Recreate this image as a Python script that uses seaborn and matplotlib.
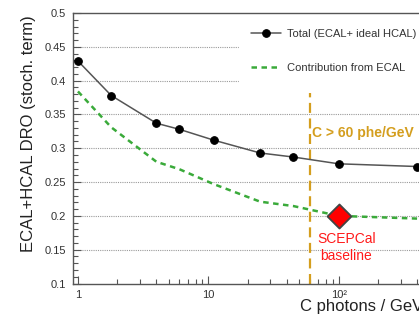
import numpy as np
import pandas as pd
import matplotlib
matplotlib.use("Agg")
import matplotlib.pyplot as plt
from matplotlib.ticker import FixedLocator, MultipleLocator, FuncFormatter, NullFormatter
import seaborn as sns

# Cherenkov light yield scan
photons = [1, 1.8, 4, 6, 11, 25, 45, 100, 400]
total_res = [0.429, 0.378, 0.337, 0.328, 0.312, 0.293, 0.287, 0.277, 0.273]
ecal_res = [0.384, 0.331, 0.280, 0.269, 0.247, 0.221, 0.2145, 0.200, 0.196]

threshold = 60
baseline_x = [100]
baseline_y = [0.20]

y_ticks = [0.1, 0.15, 0.2, 0.25, 0.3, 0.35, 0.4, 0.45, 0.5]
x_ticks = [1, 10, 100]
x_tick_labels = ["1", "10", "10\u00b2"]

sns.set_style("ticks")
plt.rcParams["font.family"] = ["Liberation Sans", "DejaVu Sans"]

AX_GRAY = "#555555"
GOLD = "#d49e1e"
GREEN = "#3aaa3a"

fig = plt.figure(figsize=(4.19, 3.21), dpi=100)
W, H = 419, 321
ax = fig.add_axes([73 / W, 1 - 283.5 / H, 356.7 / W, 270.5 / H])

df_total = pd.DataFrame({"photons": photons, "res": total_res})
df_ecal = pd.DataFrame({"photons": photons, "res": ecal_res})

sns.lineplot(data=df_total, x="photons", y="res", ax=ax, color="#555555",
             linewidth=1.1, marker="o", markersize=5.5, markerfacecolor="black",
             markeredgecolor="black", sort=False, label="Total (ECAL+ ideal HCAL)",
             zorder=4)
sns.lineplot(data=df_ecal, x="photons", y="res", ax=ax, color=GREEN,
             linewidth=1.8, sort=False, label="Contribution from ECAL", zorder=3)
ax.lines[-1].set_dashes([2.2, 1.8])

# threshold marker
ax.plot([threshold, threshold], [0.1, 0.382], color=GOLD, linewidth=1.6,
        dashes=[4.5, 2.5], zorder=2)
ax.text(63, 0.3225, "C > 60 phe/GeV", color=GOLD, fontsize=10, fontweight="bold",
        ha="left", va="center")

# baseline working point
sns.scatterplot(x=baseline_x, y=baseline_y, ax=ax, marker="D", s=150,
                color="#ff0000", edgecolor="#444444", linewidth=1.3, zorder=6,
                legend=False)
ax.text(115, 0.153, "SCEPCal\nbaseline", color="#ff1a1a", fontsize=10,
        ha="center", va="center", linespacing=1.3)

ax.set_xscale("log")
ax.set_xlim(0.916, 500)
ax.set_ylim(0.1, 0.5)

ax.xaxis.set_major_locator(FixedLocator(x_ticks))
ax.xaxis.set_major_formatter(FuncFormatter(lambda v, p: dict(zip(x_ticks, x_tick_labels)).get(round(v), "")))
ax.xaxis.set_minor_locator(FixedLocator([m * d for d in (1, 10, 100) for m in range(2, 10)]))
ax.xaxis.set_minor_formatter(NullFormatter())
ax.yaxis.set_major_locator(FixedLocator(y_ticks))
ax.yaxis.set_major_formatter(FuncFormatter(lambda v, p: f"{v:g}"))
ax.yaxis.set_minor_locator(MultipleLocator(0.01))

ax.tick_params(which="both", direction="in", colors=AX_GRAY, labelcolor="#333333",
               labelsize=8, width=0.8)
ax.tick_params(which="major", length=6, pad=5)
ax.tick_params(which="minor", length=3.5)

for s in ax.spines.values():
    s.set_color(AX_GRAY)
    s.set_linewidth(1.0)

for y in y_ticks[1:-1]:
    ax.axhline(y, color="#9a9a9a", linewidth=0.8, linestyle=(0, (1, 1)), zorder=0)

ax.set_ylabel("ECAL+HCAL DRO (stoch. term)", fontsize=12, color="#222222", loc="top")
ax.yaxis.set_label_coords(-0.105, 0.993)
ax.set_xlabel("C photons / GeV", fontsize=12, color="#222222", loc="right")
ax.xaxis.set_label_coords(0.983, -0.058)

leg = ax.legend(loc="upper left", bbox_to_anchor=((239 - 73) / 356.7, 1 - (17 - 13) / 270.5),
                frameon=True, fontsize=8, handlelength=2.7, handletextpad=0.6,
                labelspacing=2.2, borderpad=1.05, borderaxespad=0)
leg.set_zorder(10)
leg.get_frame().set_facecolor("white")
leg.get_frame().set_edgecolor("white")
leg.get_frame().set_alpha(1)
leg.get_frame().set_boxstyle("square", pad=0)
for t in leg.get_texts():
    t.set_color("#333333")

fig.savefig("out.png", dpi=100)
